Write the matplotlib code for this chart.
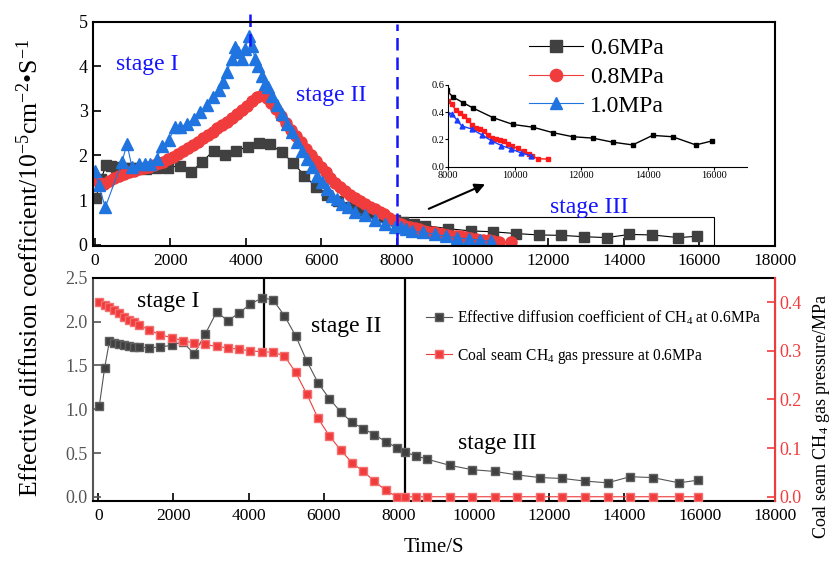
import matplotlib
matplotlib.use("Agg")
import matplotlib.pyplot as plt
from matplotlib.patches import Rectangle

plt.rcParams['font.family'] = ['Liberation Serif', 'DejaVu Serif']
plt.rcParams['mathtext.fontset'] = 'custom'
plt.rcParams['mathtext.rm'] = 'Liberation Serif'
plt.rcParams['mathtext.it'] = 'Liberation Serif:italic'

# 0.6 MPa: effective diffusion coefficient and coal seam gas pressure
t06 = [30, 170, 300, 430, 560, 690, 820, 950, 1080, 1350, 1650, 1950, 2250, 2550,
       2850, 3150, 3450, 3750, 4050, 4350, 4650, 4950, 5250, 5550, 5850, 6150, 6450,
       6750, 7050, 7350, 7650, 7950, 8150, 8450, 8750, 9350, 9950, 10550, 11150,
       11750, 12350, 12950, 13550, 14150, 14750, 15450, 15950]
d06 = [1.04, 1.47, 1.78, 1.76, 1.74, 1.73, 1.72, 1.71, 1.71, 1.70, 1.71, 1.73, 1.77,
       1.63, 1.86, 2.11, 2.01, 2.10, 2.20, 2.27, 2.25, 2.07, 1.84, 1.55, 1.30, 1.12,
       0.97, 0.85, 0.78, 0.71, 0.63, 0.56, 0.51, 0.47, 0.43, 0.36, 0.31, 0.29, 0.25,
       0.22, 0.21, 0.18, 0.16, 0.23, 0.22, 0.16, 0.19]
p06 = [0.400, 0.394, 0.390, 0.383, 0.377, 0.370, 0.364, 0.359, 0.353, 0.343, 0.333,
       0.327, 0.321, 0.316, 0.313, 0.309, 0.306, 0.303, 0.300, 0.298, 0.297, 0.290,
       0.256, 0.211, 0.161, 0.125, 0.096, 0.070, 0.052, 0.032, 0.013, 0.0, 0.0, 0.0,
       0.0, 0.0, 0.0, 0.0, 0.0, 0.0, 0.0, 0.0, 0.0, 0.0, 0.0, 0.0, 0.0]

# 0.8 MPa
t08 = [0, 130, 260, 390, 520, 650, 780, 910, 1040, 1170, 1300, 1430, 1560, 1690, 1820,
       1950, 2080, 2210, 2340, 2470, 2600, 2730, 2860, 2990, 3120, 3250, 3380, 3510,
       3640, 3770, 3900, 4030, 4160, 4290, 4420, 4550, 4680, 4810, 4940, 5070, 5200,
       5330, 5460, 5590, 5720, 5850, 5980, 6110, 6240, 6370, 6500, 6630, 6760, 6890,
       7020, 7150, 7280, 7410, 7540, 7670, 7800, 7930, 8000, 8100, 8225, 8355, 8480,
       8590, 8710, 8830, 8950, 9070, 9195, 9315, 9435, 9560, 9680, 9800, 9925, 10095,
       10280, 10430, 10530, 10710, 11015]
d08 = [1.45, 1.38, 1.37, 1.43, 1.50, 1.55, 1.59, 1.63, 1.66, 1.69, 1.72, 1.75, 1.78,
       1.82, 1.86, 1.91, 1.97, 2.03, 2.09, 2.16, 2.23, 2.30, 2.38, 2.46, 2.53, 2.61,
       2.68, 2.76, 2.85, 2.93, 3.02, 3.11, 3.21, 3.30, 3.35, 3.29, 3.18, 3.03, 2.88,
       2.73, 2.58, 2.44, 2.30, 2.15, 2.01, 1.88, 1.75, 1.62, 1.50, 1.39, 1.29, 1.20,
       1.12, 1.04, 0.97, 0.91, 0.85, 0.80, 0.74, 0.68, 0.61, 0.54, 0.486, 0.457, 0.418,
       0.393, 0.369, 0.345, 0.308, 0.284, 0.277, 0.260, 0.231, 0.211, 0.206, 0.199,
       0.187, 0.170, 0.150, 0.134, 0.114, 0.095, 0.078, 0.058, 0.056]

# 1.0 MPa
t10 = [0, 106, 282, 722, 855, 987, 1163, 1339, 1471, 1648, 1780, 1956, 2132, 2264,
       2441, 2617, 2793, 2969, 3145, 3278, 3410, 3498, 3630, 3718, 3806, 3894, 3982,
       4088, 4159, 4247, 4335, 4423, 4511, 4599, 4687, 4819, 4952, 5084, 5216, 5348,
       5480, 5612, 5744, 5877, 6009, 6141, 6273, 6405, 6537, 6714, 6890, 7154, 7419,
       7683, 7947, 8100, 8250, 8400, 8700, 9000, 9300, 9600, 9900, 10200, 10500]
d10 = [1.66, 1.33, 0.84, 1.85, 2.26, 1.74, 1.81, 1.81, 1.81, 1.93, 2.22, 2.34, 2.63,
       2.63, 2.71, 2.82, 2.97, 3.12, 3.31, 3.46, 3.64, 3.87, 4.16, 4.43, 4.31, 4.16,
       4.39, 4.67, 4.46, 4.16, 4.01, 3.79, 3.60, 3.53, 3.34, 3.12, 2.93, 2.71, 2.52,
       2.30, 2.11, 1.93, 1.74, 1.55, 1.40, 1.25, 1.10, 1.03, 0.92, 0.84, 0.73, 0.66,
       0.545, 0.47, 0.40, 0.39, 0.345, 0.30, 0.277, 0.235, 0.19, 0.155, 0.13, 0.10, 0.08]

xticks = [0, 2000, 4000, 6000, 8000, 10000, 12000, 14000, 16000, 18000]

GRAY = '#404040'
RED = '#f03c3c'
BLUE = '#1f74e0'
STAGE_BLUE = '#1414ff'

fig = plt.figure(figsize=(8.34, 5.67), dpi=100)
ax1 = fig.add_axes([0.111, 0.566, 0.818, 0.396])
ax2 = fig.add_axes([0.111, 0.116, 0.818, 0.394])
ax3 = ax2.twinx()

# ---- top panel ----
ax1.plot(t06, d06, color='black', lw=0.8, marker='s', ms=7.5, mfc=GRAY, mec=GRAY,
         label='0.6MPa')
ax1.plot(t08, d08, color=RED, lw=0.8, marker='o', ms=8, mfc=RED, mec=RED,
         label='0.8MPa')
ax1.plot(t10, d10, color=BLUE, lw=0.8, marker='^', ms=8.5, mfc=BLUE, mec=BLUE,
         label='1.0MPa')
ax1.set_xlim(-55, 18000)
ax1.set_ylim(-0.03, 5)
ax1.set_xticks(xticks)
ax1.set_yticks([0, 1, 2, 3, 4, 5])
ax1.tick_params(direction='in', length=6, width=1.2, labelsize=13)
ax1.tick_params(axis='x', labelsize=12.5, pad=5)
for s in ['top', 'right', 'left', 'bottom']:
    ax1.spines[s].set_linewidth(1.5)

ax1.plot([4100, 4100], [4.45, 5.18], color=STAGE_BLUE, lw=1.8,
         ls=(0, (5, 2.8)), clip_on=False)
ax1.plot([8000, 8000], [0, 4.95], color=STAGE_BLUE, lw=1.8, ls=(0, (5, 2.8)))
ax1.add_patch(Rectangle((8000, 0), 8400, 0.62, fill=False, lw=0.8, color='black'))
ax1.annotate('', xy=(10400, 1.38), xytext=(8775, 0.78),
             arrowprops=dict(arrowstyle='-|>', color='black', lw=1.5,
                             mutation_scale=15))
ax1.text(1400, 4.03, 'stage I', color=STAGE_BLUE, fontsize=17, ha='center', va='center')
ax1.text(6250, 3.35, 'stage II', color=STAGE_BLUE, fontsize=17, ha='center', va='center')
ax1.text(13100, 0.83, 'stage III', color=STAGE_BLUE, fontsize=17, ha='center', va='center')

ax1.legend(loc='upper left', bbox_to_anchor=(517 / 834, 1 - 26 / 567),
           bbox_transform=fig.transFigure, frameon=False, fontsize=17,
           handlelength=2.3, handletextpad=0.3, labelspacing=0.3, borderpad=0,
           markerscale=1.1)

# ---- inset ----
ins = fig.add_axes([448.3 / 834, 1 - 166.7 / 567, 299 / 834, 81.7 / 567])
ins.plot(t06, d06, color='black', lw=1, marker='s', ms=3)
ins.plot(t08, d08, color='#ff1a1a', lw=1, marker='s', ms=3)
ins.plot(t10, d10, color='#1a3cff', lw=1, marker='^', ms=3.5)
ins.set_xlim(8000, 17000)
ins.set_ylim(0, 0.6)
ins.set_xticks([8000, 10000, 12000, 14000, 16000])
ins.set_yticks([0.0, 0.2, 0.4, 0.6])
ins.set_yticklabels(['0.0', '0.2', '0.4', '0.6'])
ins.spines['top'].set_visible(False)
ins.spines['right'].set_visible(False)
ins.tick_params(direction='out', length=2, labelsize=7.5, pad=1)
ins.patch.set_alpha(0)

# ---- bottom panel ----
ax2.plot(t06, d06, color='#555555', lw=0.8, marker='s', ms=6, mfc=GRAY, mec='#606060',
         label='Effective diffusion coefficient of CH$_4$ at 0.6MPa', zorder=3)
ax3.plot(t06, p06, color=RED, lw=0.8, marker='s', ms=6, mfc=RED, mec='#f47070',
         label='Coal seam CH$_4$ gas pressure at 0.6MPa')
ax2.set_xlim(-150, 18000)
ax2.set_ylim(-0.05, 2.5)
ax3.set_ylim(-0.0092, 0.45)
ax2.set_xticks(xticks)
ax2.set_yticks([0.0, 0.5, 1.0, 1.5, 2.0, 2.5])
ax2.set_yticklabels(['0.0', '0.5', '1.0', '1.5', '2.0', '2.5'])
ax3.set_yticks([0.0, 0.1, 0.2, 0.3, 0.4])
ax3.set_yticklabels(['0.0', '0.1', '0.2', '0.3', '0.4'])
ax2.tick_params(direction='in', length=6, width=1.2, labelsize=13)
ax2.tick_params(axis='x', labelsize=12.5, pad=5)
ax2.tick_params(axis='y', colors='#555555')
ax3.tick_params(direction='in', length=6, width=1.2, labelsize=13, colors=RED)
for s in ['top', 'bottom']:
    ax2.spines[s].set_linewidth(1.5)
ax2.spines['left'].set_color('#555555')
ax2.spines['left'].set_linewidth(1.5)
ax3.spines['right'].set_color(RED)
ax3.spines['right'].set_linewidth(1.5)
ax3.spines['left'].set_visible(False)
ax3.spines['top'].set_visible(False)
ax3.spines['bottom'].set_visible(False)

ax2.plot([4400, 4400], [1.68, 2.5], color='black', lw=1.6)
ax2.plot([8150, 8150], [-0.05, 2.5], color='black', lw=1.6)
ax2.text(1870, 2.23, 'stage I', fontsize=17, ha='center', va='center')
ax2.text(6610, 1.95, 'stage II', fontsize=17, ha='center', va='center')
ax2.text(10620, 0.614, 'stage III', fontsize=17, ha='center', va='center')

h2, l2 = ax2.get_legend_handles_labels()
h3, l3 = ax3.get_legend_handles_labels()
ax3.legend(h2 + h3, l2 + l3, loc='upper left',
           bbox_to_anchor=(418 / 834, 1 - 301 / 567), bbox_transform=fig.transFigure,
           frameon=False, fontsize=11.2, handlelength=1.7, handletextpad=0.3,
           labelspacing=1.2, borderpad=0)

ax2.set_xlabel('Time/S', fontsize=15, labelpad=10)

fig.text(0.035, 0.527, 'Effective diffusion coefficient/10$^{-5}$cm$^{-2}$\u2022S$^{-1}$',
         rotation=90, fontsize=18.5, ha='center', va='center')
fig.text(0.985, 0.266, 'Coal seam CH$_4$ gas pressure/MPa', rotation=90, fontsize=13,
         ha='center', va='center')

fig.savefig('out.png', dpi=100)
